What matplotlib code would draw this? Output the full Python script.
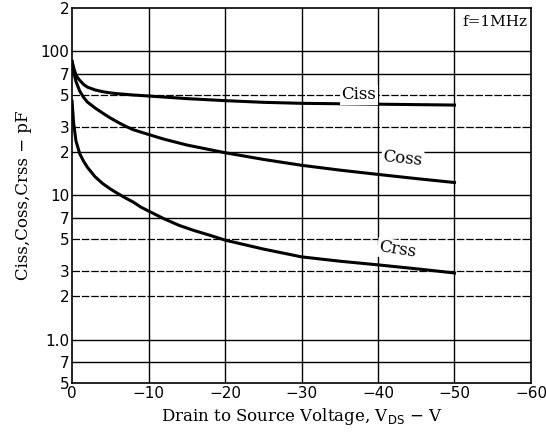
import numpy as np
import matplotlib
matplotlib.use("Agg")
import matplotlib.pyplot as plt

# values (VDS in volts, capacitance in pF)
ciss_v = [0, -0.3, -0.6, -1, -1.5, -2, -3, -4, -5, -6, -8, -10, -15, -20, -25, -30, -40, -50]
ciss_c = [85, 74, 67, 63, 59, 56.5, 54, 52.5, 51.5, 50.8, 49.8, 49, 47, 45.5, 44.3, 43.6, 43, 42.4]

coss_v = [0, -0.2, -0.5, -1, -1.5, -2, -3, -4, -5, -6, -7, -8, -10, -12, -15,
          -20, -25, -30, -35, -40, -45, -50]
coss_c = [85, 72, 62, 53, 48, 44.5, 40.5, 37.3, 34.5, 32.2, 30.2, 28.6, 26.5, 24.6, 22.4,
          19.8, 17.8, 16.2, 15.0, 14.0, 13.1, 12.3]

crss_v = [0, -0.2, -0.5, -1, -1.5, -2, -3, -4, -5, -6, -7, -8, -9, -10, -12, -14, -16,
          -18, -20, -25, -30, -35, -40, -45, -50]
crss_c = [45, 32, 24, 19.5, 17.3, 15.7, 13.5, 12.1, 11.1, 10.3, 9.6, 9.0, 8.3, 7.8, 6.9, 6.2, 5.7,
          5.3, 4.9, 4.25, 3.75, 3.5, 3.3, 3.1, 2.9]

solid_grid = [100, 70, 20, 10, 7, 1.0, 0.7]
dash_grid = [50, 30, 5, 3, 2]
ytick_vals = [200, 100, 70, 50, 30, 20, 10, 7, 5, 3, 2, 1.0, 0.7, 0.5]
ytick_labels = ["2", "100", "7", "5", "3", "2", "10", "7", "5", "3", "2", "1.0", "7", "5"]
xtick_vals = [0, -10, -20, -30, -40, -50, -60]
xtick_labels = ["0", "\u221210", "\u221220", "\u221230", "\u221240", "\u221250", "\u221260"]

fig = plt.figure(figsize=(5.46, 4.36), dpi=100)
ax = fig.add_axes([0.132, 0.1216, 0.8405, 0.8601])

ax.set_yscale("log")
ax.set_xlim(0, -60)
ax.set_ylim(0.5, 200)

for v in solid_grid:
    ax.axhline(v, color="black", lw=1.0, zorder=1)
for v in dash_grid:
    ax.axhline(v, color="black", lw=0.9, ls=(0, (6, 1.5)), zorder=1)
for v in xtick_vals[1:-1]:
    ax.axvline(v, color="black", lw=1.0, zorder=1)

ax.plot(ciss_v, ciss_c, color="black", lw=2.2, zorder=3, solid_joinstyle="round")
ax.plot(coss_v, coss_c, color="black", lw=2.2, zorder=3, solid_joinstyle="round")
ax.plot(crss_v, crss_c, color="black", lw=2.2, zorder=3, solid_joinstyle="round")

ax.yaxis.set_minor_locator(matplotlib.ticker.NullLocator())
ax.set_yticks(ytick_vals)
ax.set_yticklabels(ytick_labels)
ax.set_xticks(xtick_vals)
ax.set_xticklabels(xtick_labels)
ax.tick_params(length=0, labelsize=11, pad=2)
for s in ax.spines.values():
    s.set_linewidth(1.2)

serif = "DejaVu Serif"
box = dict(facecolor="white", edgecolor="none", pad=1)
ax.text(-37.5, 50, "Ciss", family=serif, fontsize=12, ha="center", va="center",
        bbox=box, zorder=4)
ax.text(-43.2, 18, "Coss", family=serif, fontsize=12, ha="center", va="center",
        rotation=-6, bbox=box, zorder=4)
ax.text(-42.5, 4.2, "Crss", family=serif, fontsize=12, ha="center", va="center",
        rotation=-9, bbox=box, zorder=4)
ax.text(-59.5, 180, "f=1MHz", family=serif, fontsize=11, ha="right", va="top",
        bbox=box, zorder=4)

ax.set_xlabel("Drain to Source Voltage, V$_{\\rm DS}$ \u2212 V", family=serif,
              fontsize=12, labelpad=4)
ax.set_ylabel("Ciss,Coss,Crss \u2212 pF", family=serif, fontsize=12, labelpad=6)

fig.savefig("out.png", dpi=100)
